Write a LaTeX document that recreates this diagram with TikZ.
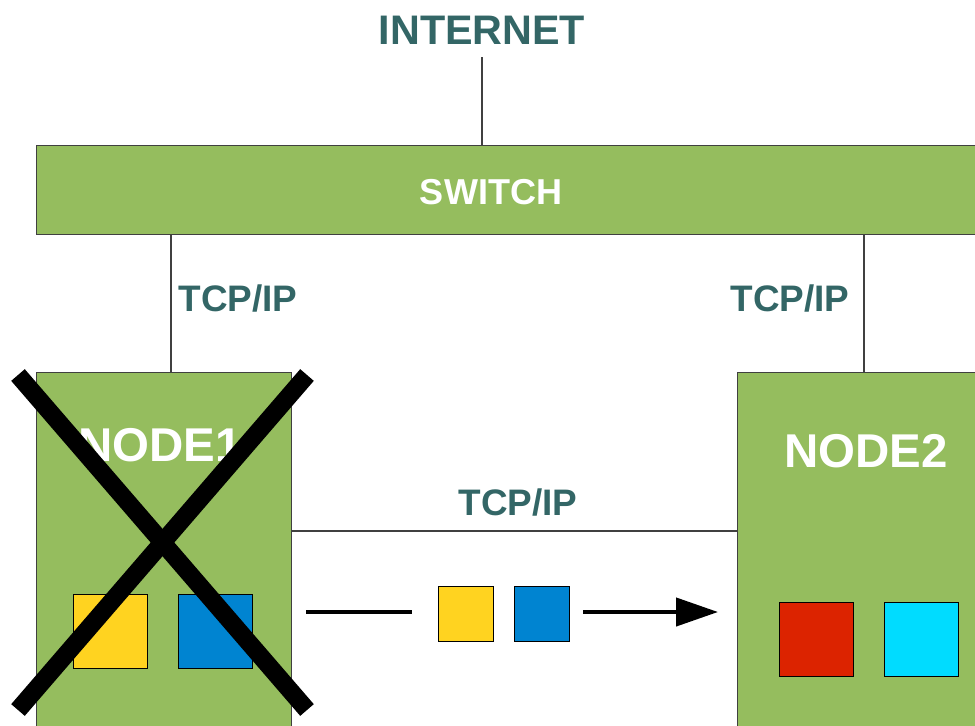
\documentclass[tikz,border=0pt]{standalone}
\usepackage{fontspec}
\setmainfont{Liberation Sans}
\usepackage[dvipsnames]{xcolor}
\usepackage{tikz}
\usetikzlibrary{arrows.meta}

\definecolor{boxgreen}{HTML}{95BD5E}
\definecolor{boxline}{HTML}{404040}
\definecolor{tealtext}{HTML}{336666}
\definecolor{pktyellow}{HTML}{FFD320}
\definecolor{pktblue}{HTML}{0084D1}
\definecolor{pktred}{HTML}{DC2300}
\definecolor{pktcyan}{HTML}{00DCFF}

\begin{document}
\begin{tikzpicture}[x=0.02cm, y=-0.02cm,
  box/.style={draw=boxline, line width=0.6pt, fill=boxgreen, inner sep=0pt, anchor=north west},
  chunk/.style={draw=black, line width=0.5pt, inner sep=0pt, minimum size=#1},
  tag/.style={font=\fontsize{21}{25}\selectfont\bfseries, text=tealtext},
  title/.style={font=\fontsize{27}{32}\selectfont\bfseries, text=white},
  wire/.style={draw=boxline, line width=0.6pt}]
\useasboundingbox (0,0) rectangle (975,725);
\clip (0,0) rectangle (975,725);

% boxes
\node[box, minimum width=19.28cm, minimum height=1.78cm] (switch) at (36,145) {};
\node[box, minimum width=5.1cm, minimum height=7.76cm] (node1) at (36,372) {};
\node[box, minimum width=6cm, minimum height=7.76cm] (node2) at (737,372) {};

% texts
\node[tag, font=\fontsize{23.5}{28}\selectfont\bfseries] (internet) at (482,30) {INTERNET};
\node[title, font=\fontsize{20.5}{25}\selectfont\bfseries] (switchlabel) at (491,192) {SWITCH};
\node[title] (node1label) at (160,445) {NODE1};
\node[title] (node2label) at (866,451) {NODE2};
\node[tag] (tcpleft) at (238,298) {TCP/IP};
\node[tag] (tcpright) at (790,298) {TCP/IP};
\node[tag] (tcpmid) at (518,502) {TCP/IP};

% wires
\coordinate (up) at (482,57);
\coordinate (down1) at (171,372);
\coordinate (down2) at (864,372);
\coordinate (link) at (0,531);
\draw[wire] (up) -- (up |- switch.north);
\draw[wire] (down1) -- (down1 |- switch.south);
\draw[wire] (down2) -- (down2 |- switch.south);
\draw[wire] (node1.east |- link) -- (node2.west |- link);

% data
\node[chunk=1.48cm, fill=pktyellow] (n1a) at (110,631.5) {};
\node[chunk=1.48cm, fill=pktblue] (n1b) at (215,631.5) {};
\node[chunk=1.1cm, fill=pktyellow] (moveA) at (465.5,614) {};
\node[chunk=1.1cm, fill=pktblue] (moveB) at (542,614) {};
\node[chunk=1.48cm, fill=pktred] (n2a) at (816,639.5) {};
\node[chunk=1.48cm, fill=pktcyan] (n2b) at (921,639.5) {};

\coordinate (flowA) at (306,612);
\coordinate (flowB) at (412,612);
\coordinate (flowC) at (583,612);
\coordinate (flowD) at (718,612);
\draw[line width=2.3pt] (flowA) -- (flowB);
\draw[line width=2.3pt, -{Triangle[length=23.8pt, width=15.9pt]}] (flowC) -- (flowD);

% failed node
\coordinate (crossTL) at (18,375);
\coordinate (crossBR) at (307,710);
\coordinate (crossTR) at (307,375);
\coordinate (crossBL) at (18,710);
\draw[line width=10.2pt] (crossTL) -- (crossBR);
\draw[line width=10.2pt] (crossTR) -- (crossBL);
\end{tikzpicture}
\end{document}
